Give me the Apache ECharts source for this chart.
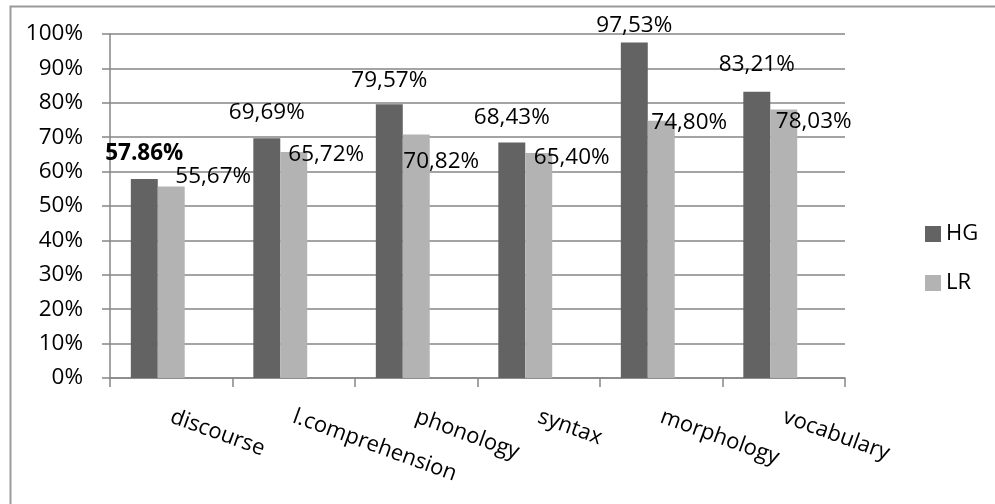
<!DOCTYPE html>
<html>
<head>
<meta charset="utf-8">
<script src="https://cdn.jsdelivr.net/npm/echarts@6/dist/echarts.min.js"></script>
<style>
html,body{margin:0;padding:0;background:#fff;}
#c{width:995px;height:504px;}
</style>
</head>
<body>
<div id="c"></div>
<script>
const categories = ['discourse', 'l.comprehension', 'phonology', 'syntax', 'morphology', 'vocabulary'];
const hgValues = [57.86, 69.69, 79.57, 68.43, 97.53, 83.21];
const lrValues = [55.67, 65.72, 70.82, 65.40, 74.80, 78.03];
const hgLabels = ['57.86%', '69,69%', '79,57%', '68,43%', '97,53%', '83,21%'];
const lrLabels = ['55,67%', '65,72%', '70,82%', '65,40%', '74,80%', '78,03%'];
const yTicks = [0, 10, 20, 30, 40, 50, 60, 70, 80, 90, 100];

const FONT = 'Open Sans';
const chart = echarts.init(document.getElementById('c'));

// label placement (style only)
const hgShift = [[0, -25], [0, -26], [0, -24], [0, -25.5], [0, -16.5], [0, -27]];
const lrShift = [[42, -9.5], [32.5, 3], [25, 27], [33, 5], [28, 2], [30, 12]];

function makeData(vals, labels, shifts, boldFirst) {
  return vals.map((v, i) => ({
    value: v,
    label: {
      show: true,
      position: 'top',
      distance: 0,
      align: 'center',
      verticalAlign: 'middle',
      offset: shifts[i],
      formatter: labels[i],
      fontFamily: FONT,
      fontSize: 22.5,
      color: '#000',
      fontWeight: (boldFirst && i === 0) ? 'bold' : 'normal'
    }
  }));
}

chart.setOption({
  animation: false,
  backgroundColor: '#fff',
  graphic: [{
    type: 'rect',
    left: 8, top: 4,
    shape: { x: 0, y: 0, width: 1000, height: 520 },
    style: { fill: 'none', stroke: '#9a9a9a', lineWidth: 2 },
    silent: true
  }],
  grid: { left: 110, right: 150, top: 34, bottom: 126, containLabel: false },
  legend: {
    data: ['HG', 'LR'],
    orient: 'vertical',
    left: 920,
    top: 218,
    itemWidth: 16,
    itemHeight: 16,
    itemGap: 27,
    icon: 'rect',
    textStyle: { fontFamily: FONT, fontSize: 22, color: '#000' }
  },
  xAxis: {
    type: 'category',
    data: categories,
    boundaryGap: true,
    axisLine: { show: true, lineStyle: { color: '#868686', width: 1.5 } },
    axisTick: { show: true, length: 9, alignWithLabel: false, lineStyle: { color: '#868686', width: 1.5 } },
    axisLabel: {
      rotate: -20,
      margin: 38,
      interval: 0,
      fontFamily: FONT,
      fontSize: 22,
      color: '#000'
    }
  },
  yAxis: {
    type: 'value',
    min: yTicks[0],
    max: yTicks[yTicks.length - 1],
    interval: yTicks[1] - yTicks[0],
    axisLine: { show: true, lineStyle: { color: '#868686', width: 1.5 } },
    axisTick: { show: true, length: 8, lineStyle: { color: '#868686', width: 1.5 } },
    splitLine: { show: true, lineStyle: { color: '#868686', width: 1.5 } },
    axisLabel: {
      margin: 27,
      fontFamily: FONT,
      fontSize: 22.5,
      color: '#000',
      formatter: '{value}%'
    }
  },
  series: [
    {
      name: 'HG', type: 'bar',
      barGap: '0%', barCategoryGap: '34%',
      itemStyle: { color: '#636363' },
      data: makeData(hgValues, hgLabels, hgShift, true),
      z: 2
    },
    {
      name: 'LR', type: 'bar',
      barGap: '0%', barCategoryGap: '34%',
      itemStyle: { color: '#b3b3b3' },
      data: makeData(lrValues, lrLabels, lrShift, false),
      z: 2
    },
    {
      name: 'spacer', type: 'bar',
      barGap: '0%', barCategoryGap: '34%',
      data: categories.map(() => null)
    }
  ]
});
</script>
</body>
</html>
